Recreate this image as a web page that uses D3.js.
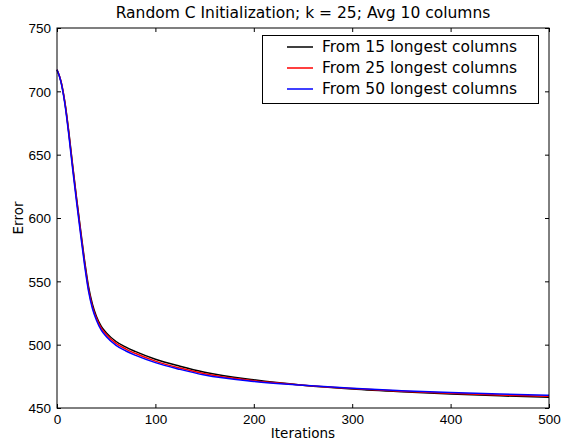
<!DOCTYPE html>
<html>
<head>
<meta charset="utf-8">
<script src="https://cdn.jsdelivr.net/npm/d3@7"></script>
<style>
  body { margin: 0; background: #fff; }
  svg { display: block; font-family: "DejaVu Sans", sans-serif; }
</style>
</head>
<body>
<svg width="561" height="447"></svg>
<script>
// 데이터
const iterations = [0, 4, 8, 12, 16, 20, 24, 28, 32, 36, 40, 45, 50, 60, 70, 80, 100, 125, 150, 200, 250, 300, 350, 400, 450, 500];
const from15 = [717, 708, 691.5, 668, 641, 615, 590.5, 566.5, 546, 532, 522.5, 514.5, 509.5, 502.5, 498, 494.5, 488.5, 483, 478.3, 472.3, 468, 465, 462.8, 461, 459.6, 458.5];
const from25 = [717, 708, 691, 667, 640, 614, 589, 565, 544, 530, 521, 513, 508, 501, 496.5, 493, 487, 481.5, 477, 471.5, 468, 465.3, 463.3, 461.6, 460.3, 459.3];
const from50 = [717, 707.5, 690, 665.5, 638, 612, 587, 563, 542.5, 528.5, 519.5, 511.5, 506.5, 499.5, 495, 491.5, 485.8, 480.5, 476, 471, 468, 465.5, 463.7, 462.2, 461, 460.1];
const seriesNames = ["From 15 longest columns", "From 25 longest columns", "From 50 longest columns"];
const seriesColors = ["#000000", "#ff0000", "#0000ff"];
const xTicks = [0, 100, 200, 300, 400, 500];
const yTicks = [450, 500, 550, 600, 650, 700, 750];

const svg = d3.select("svg");
const plotLeft = 57, plotRight = 549, plotTop = 28, plotBottom = 408;

const x = d3.scaleLinear().domain([0, 500]).range([plotLeft, plotRight]);
const y = d3.scaleLinear().domain([450, 750]).range([plotBottom, plotTop]);

// 제목
svg.append("text")
  .attr("x", (plotLeft + plotRight) / 2)
  .attr("y", 18)
  .attr("text-anchor", "middle")
  .style("font-size", "15.5px")
  .text("Random C Initialization; k = 25; Avg 10 columns");

// 곡선
const allSeries = [from15, from25, from50];
const line = d3.line()
  .x((d, i) => x(iterations[i]))
  .y(d => y(d))
  .curve(d3.curveMonotoneX);

allSeries.forEach((values, i) => {
  svg.append("path")
    .datum(values)
    .attr("fill", "none")
    .attr("stroke", seriesColors[i])
    .attr("stroke-width", 1.5)
    .attr("d", line);
});

// 축 (눈금은 안쪽으로)
const tickLen = 4;
const xAxisBottom = d3.axisBottom(x).tickValues(xTicks).tickSizeInner(-tickLen).tickSizeOuter(0).tickPadding(6);
const xAxisTop = d3.axisTop(x).tickValues(xTicks).tickSizeInner(-tickLen).tickSizeOuter(0).tickFormat("");
const yAxisLeft = d3.axisLeft(y).tickValues(yTicks).tickSizeInner(-tickLen).tickSizeOuter(0).tickPadding(6);
const yAxisRight = d3.axisRight(y).tickValues(yTicks).tickSizeInner(-tickLen).tickSizeOuter(0).tickFormat("");

const gx = svg.append("g").attr("transform", `translate(0,${plotBottom})`).call(xAxisBottom);
svg.append("g").attr("transform", `translate(0,${plotTop})`).call(xAxisTop);
const gy = svg.append("g").attr("transform", `translate(${plotLeft},0)`).call(yAxisLeft);
svg.append("g").attr("transform", `translate(${plotRight},0)`).call(yAxisRight);

svg.selectAll(".domain").remove();
svg.selectAll(".tick line").attr("stroke", "#000");
gx.selectAll("text").style("font-size", "13.5px").attr("fill", "#000").attr("dy", "0.71em");
gy.selectAll("text").style("font-size", "13.5px").attr("fill", "#000").attr("dy", "0.36em");

// 프레임
svg.append("rect")
  .attr("x", plotLeft)
  .attr("y", plotTop)
  .attr("width", plotRight - plotLeft)
  .attr("height", plotBottom - plotTop)
  .attr("fill", "none")
  .attr("stroke", "#000")
  .attr("stroke-width", 1);

// 축 제목
svg.append("text")
  .attr("x", (plotLeft + plotRight) / 2)
  .attr("y", 438)
  .attr("text-anchor", "middle")
  .style("font-size", "13.5px")
  .text("Iterations");

svg.append("text")
  .attr("transform", `translate(23,${(plotTop + plotBottom) / 2}) rotate(-90)`)
  .attr("text-anchor", "middle")
  .style("font-size", "13.5px")
  .text("Error");

// 범례
const legend = svg.append("g");
legend.append("rect")
  .attr("x", 262.5)
  .attr("y", 35.5)
  .attr("width", 276)
  .attr("height", 68)
  .attr("fill", "#fff")
  .attr("stroke", "#000");

seriesNames.forEach((name, i) => {
  const ly = 47 + i * 21;
  legend.append("line")
    .attr("x1", 287).attr("x2", 313)
    .attr("y1", ly).attr("y2", ly)
    .attr("stroke", seriesColors[i])
    .attr("stroke-width", 1.5);
  legend.append("text")
    .attr("x", 322)
    .attr("y", ly)
    .attr("dy", "0.35em")
    .style("font-size", "15.5px")
    .text(name);
});
</script>
</body>
</html>
